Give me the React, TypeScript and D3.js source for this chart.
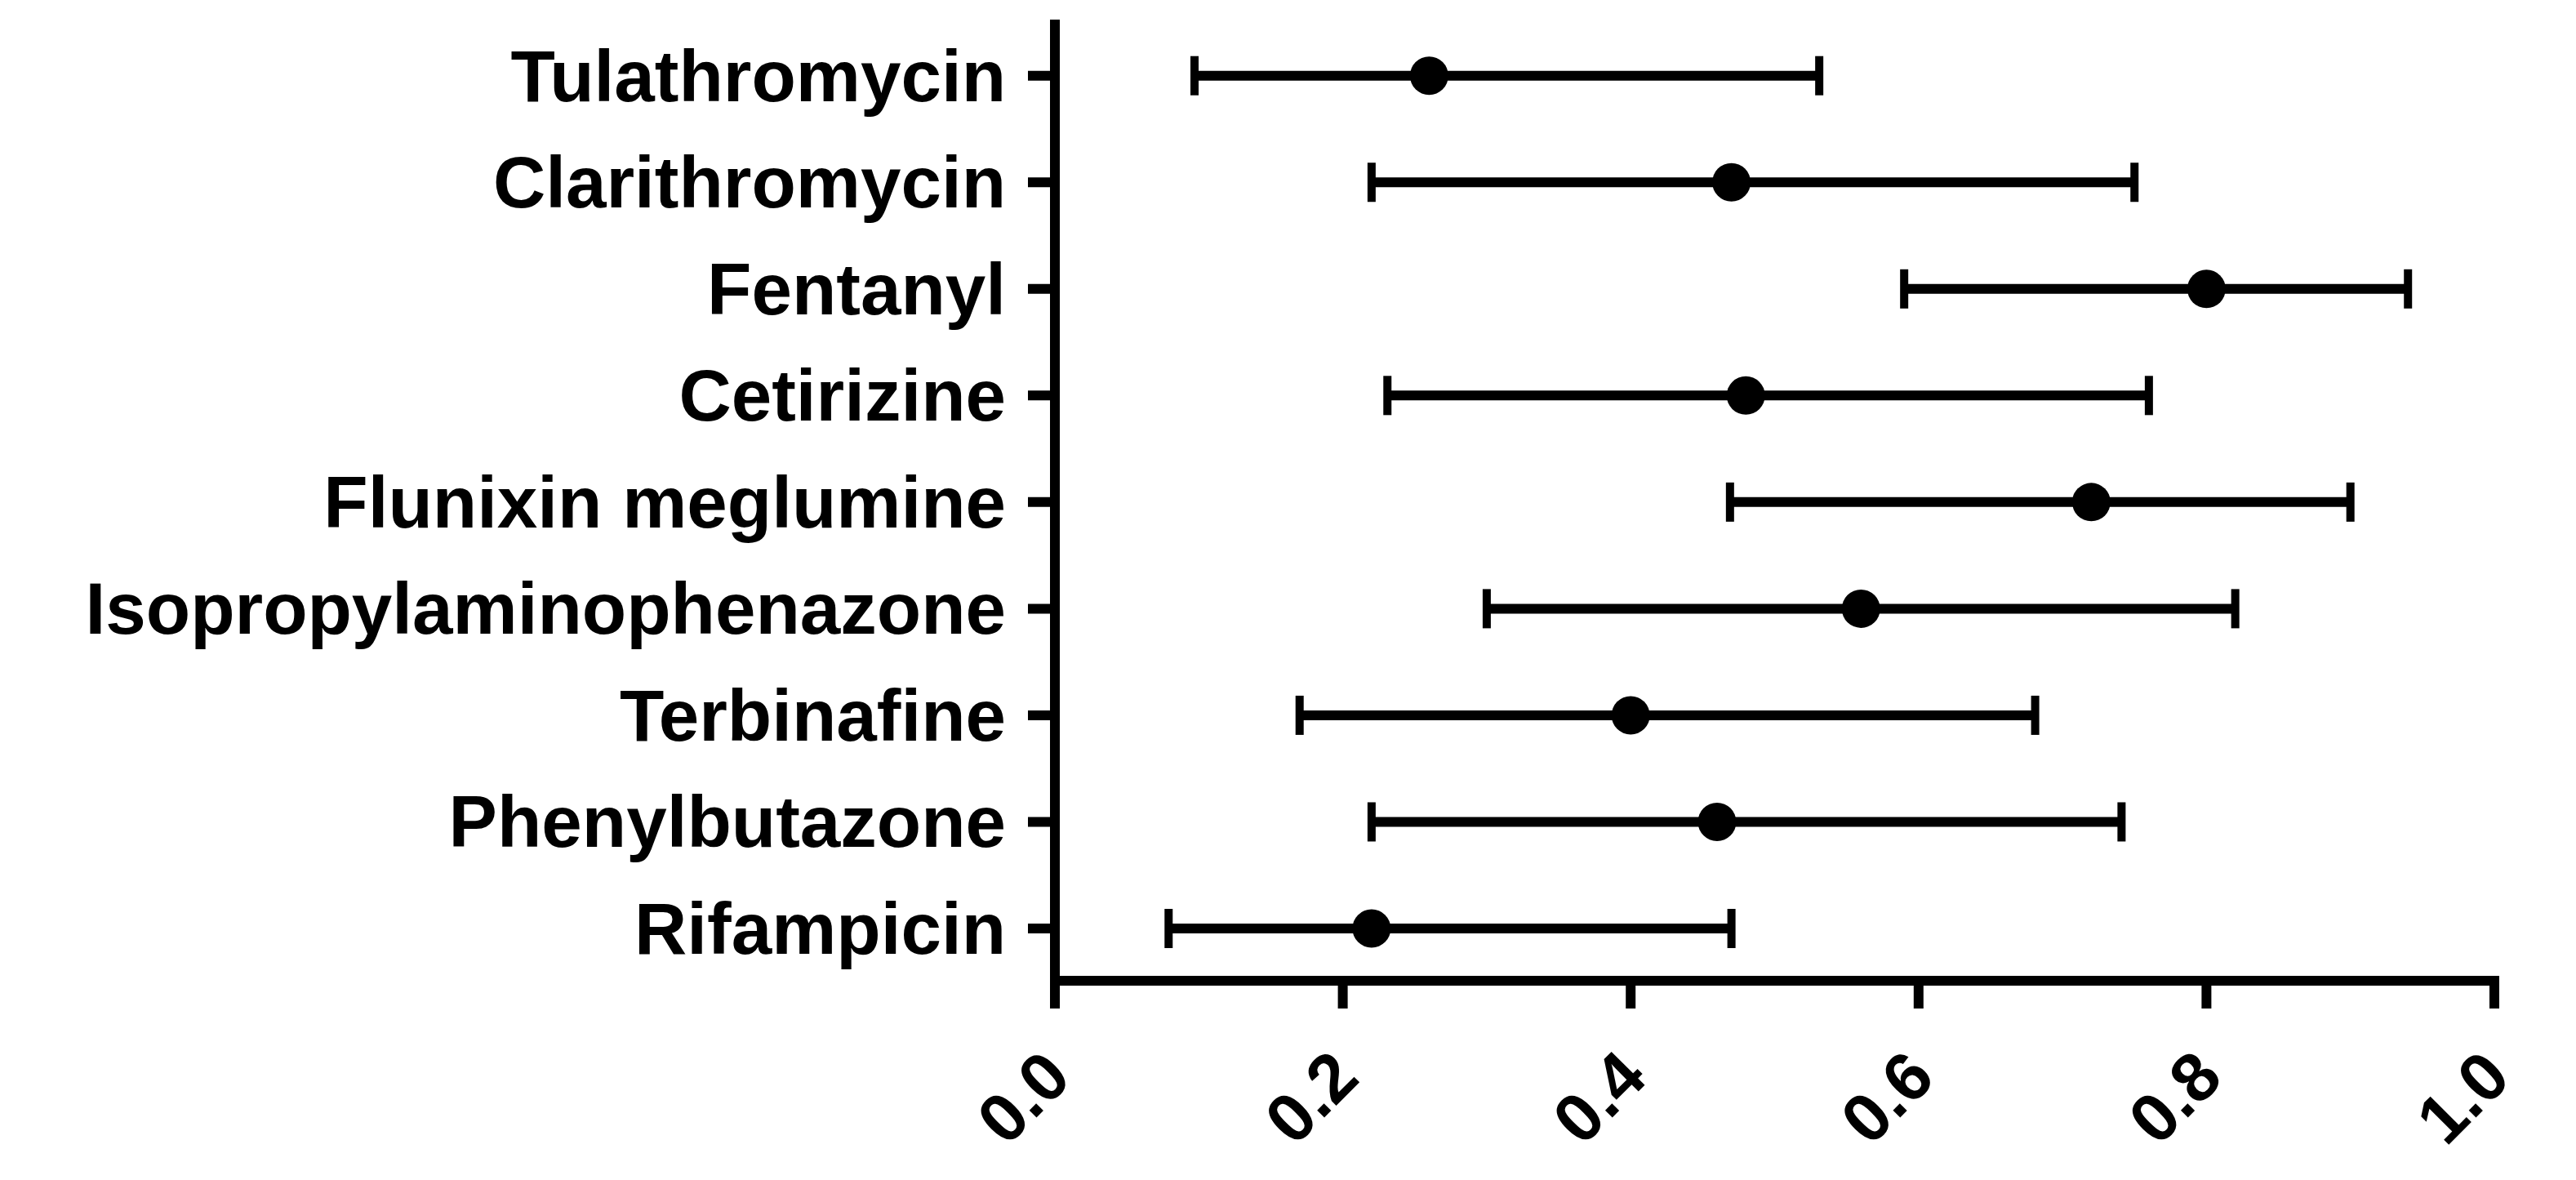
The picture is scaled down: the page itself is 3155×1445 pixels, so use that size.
import React from "react";
import * as d3 from "d3";

const drugs = [
  "Tulathromycin",
  "Clarithromycin",
  "Fentanyl",
  "Cetirizine",
  "Flunixin meglumine",
  "Isopropylaminophenazone",
  "Terbinafine",
  "Phenylbutazone",
  "Rifampicin",
];
const means = [0.26, 0.47, 0.8, 0.48, 0.72, 0.56, 0.4, 0.46, 0.22];
const lower = [0.097, 0.22, 0.59, 0.231, 0.469, 0.3, 0.17, 0.22, 0.079];
const upper = [0.531, 0.75, 0.94, 0.76, 0.9, 0.82, 0.681, 0.741, 0.47];
const xTicks = [0, 0.2, 0.4, 0.6, 0.8, 1.0];

const W = 3155;
const H = 1445;
const FONT = "'Liberation Sans', Arial, Helvetica, sans-serif";

export default function App() {
  const x = d3.scaleLinear().domain([0, 1]).range([1292, 3055]);
  const y = d3.scalePoint<string>().domain(drugs).range([92.7, 1137]);
  const fmt = d3.format(".1f");
  const axisY = 1201;
  const axisX = x(0);
  const stroke = 12;

  return (
    <svg
      width={W}
      height={H}
      viewBox={`0 0 ${W} ${H}`}
      style={{ position: "absolute", left: 0, top: 0, background: "#fff" }}
    >
      <rect width={W} height={H} fill="#fff" />
      {/* Y axis */}
      <line x1={axisX} x2={axisX} y1={24} y2={axisY + 6} stroke="#000" strokeWidth={stroke} />
      {drugs.map((d) => (
        <g key={d}>
          <line x1={axisX - 33} x2={axisX} y1={y(d)} y2={y(d)} stroke="#000" strokeWidth={stroke} />
          <text
            x={1232}
            y={(y(d) as number) + 31}
            textAnchor="end"
            fontFamily={FONT}
            fontWeight="bold"
            fontSize={89}
            fill="#000"
          >
            {d}
          </text>
        </g>
      ))}
      {/* X axis */}
      <line x1={axisX - 6} x2={x(1) + 6} y1={axisY} y2={axisY} stroke="#000" strokeWidth={stroke} />
      {xTicks.map((t) => (
        <g key={t}>
          <line x1={x(t)} x2={x(t)} y1={axisY} y2={axisY + 34} stroke="#000" strokeWidth={stroke} />
          <text
            transform={`translate(${x(t) + 23},${1323}) rotate(-45)`}
            textAnchor="end"
            fontFamily={FONT}
            fontWeight="bold"
            fontSize={84}
            fill="#000"
          >
            {fmt(t)}
          </text>
        </g>
      ))}
      {/* Error bars and means */}
      {drugs.map((d, i) => {
        const cy = y(d) as number;
        return (
          <g key={"e" + d}>
            <line x1={x(lower[i])} x2={x(upper[i])} y1={cy} y2={cy} stroke="#000" strokeWidth={12} />
            <line x1={x(lower[i])} x2={x(lower[i])} y1={cy - 24} y2={cy + 24} stroke="#000" strokeWidth={10} />
            <line x1={x(upper[i])} x2={x(upper[i])} y1={cy - 24} y2={cy + 24} stroke="#000" strokeWidth={10} />
            <circle cx={x(means[i])} cy={cy} r={23.5} fill="#000" />
          </g>
        );
      })}
    </svg>
  );
}
